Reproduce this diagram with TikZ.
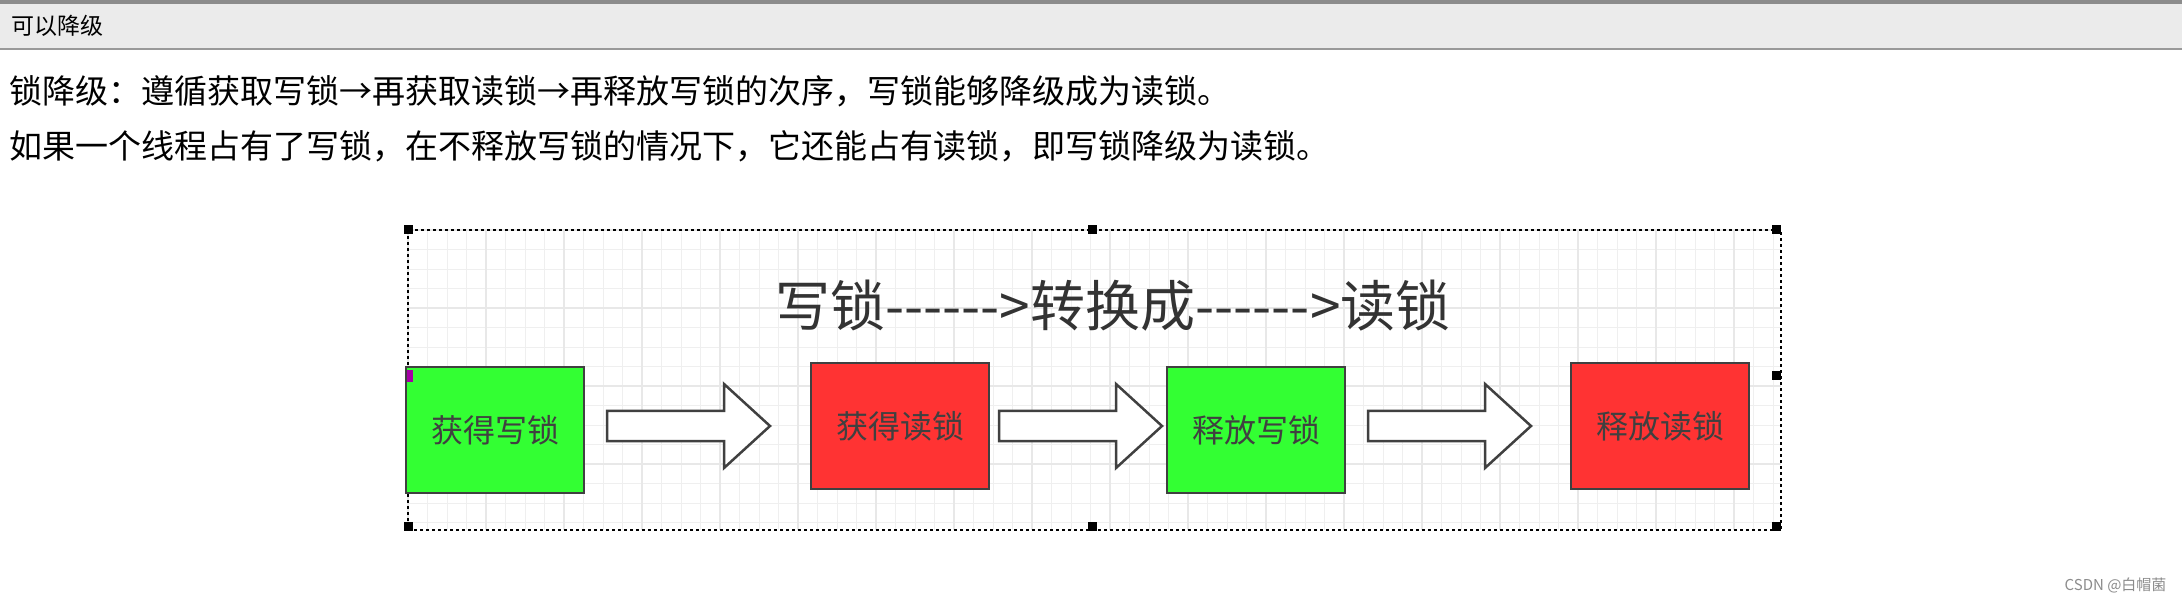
\documentclass[tikz,border=0pt]{standalone}
\usepackage{fontspec}
\setmainfont{Noto Sans CJK SC}
\usetikzlibrary{positioning}

\definecolor{lockgreen}{RGB}{51,255,51}
\definecolor{lockred}{RGB}{255,51,51}
\definecolor{gridgray}{RGB}{232,232,232}

\newcommand\hy{{-}}

\begin{document}
\begin{tikzpicture}[x=1pt,y=-1pt]

\tikzstyle step box=[draw=black!75, line width=2.5pt, minimum width=178pt, minimum height=126pt, inner sep=0pt, text=black!75, font=\fontsize{32}{34}\selectfont]
\tikzstyle handle=[fill=black, minimum size=9pt, inner sep=0pt]

\useasboundingbox (0,0) rectangle (2182,601);
\fill[white] (0,0) rectangle (2182,601);

% header bar
\fill[black!8] (0,0) rectangle (2182,49);
\fill[black!45] (0,0) rectangle (2182,4);
\draw[black!40, line width=1.5pt] (0,49) -- (2182,49);
\node (head) [anchor=west, font=\fontsize{23}{25}\selectfont] at (8,26) {可以降级};

\node (line1) [anchor=west, font=\fontsize{33}{36}\selectfont] at (6,91) {锁降级：遵循获取写锁→再获取读锁→再释放写锁的次序，写锁能够降级成为读锁。};
\node (line2) [anchor=west, font=\fontsize{33}{36}\selectfont] at (6,146) {如果一个线程占有了写锁，在不释放写锁的情况下，它还能占有读锁，即写锁降级为读锁。};

% grid
\foreach \x in {0,19.5,...,1373} \draw[gridgray!70, line width=0.8pt] (408+\x,230) -- (408+\x,530);
\foreach \y in {0,19.5,...,300} \draw[gridgray!70, line width=0.8pt] (408,230+\y) -- (1781,230+\y);
\foreach \x in {0,78,...,1373} \draw[gridgray, line width=1.6pt] (408+\x,230) -- (408+\x,530);
\foreach \y in {0,78,...,300} \draw[gridgray, line width=1.6pt] (408,230+\y) -- (1781,230+\y);
\draw[dashed, line width=1.5pt] (408,230) rectangle (1781,530);

\node (title) [text=black!80, font=\fontsize{55}{57}\selectfont] at (1113,306) {写锁\hy\hy\hy\hy\hy\hy>转换成\hy\hy\hy\hy\hy\hy>读锁};

\node (gw) [step box, fill=lockgreen] at (495,430) {获得写锁};
\node (gr) [step box, fill=lockred] at (900,426) {获得读锁};
\node (fw) [step box, fill=lockgreen] at (1256,430) {释放写锁};
\node (fr) [step box, fill=lockred] at (1660,426) {释放读锁};

% block arrows
\foreach \a/\b/\sx/\tx in {gw/gr/607/770, gr/fw/999/1162, fw/fr/1368/1531} {
  \coordinate (s) at (\sx,426);
  \coordinate (t) at (\tx,426);
  \draw[black!75, line width=2.5pt, fill=white, line join=miter]
    ([yshift=-15]s) -- ([xshift=-46,yshift=-15]t) -- ([xshift=-46,yshift=-42]t) -- (t)
    -- ([xshift=-46,yshift=42]t) -- ([xshift=-46,yshift=15]t) -- ([yshift=15]s) -- cycle;
}

% selection handles
\foreach \p in {(408,230),(1092,230),(1776,230),(1776,376),(408,526),(1092,526),(1776,526)}
  \node[handle] at \p {};
\fill[violet!70!magenta] (407,370) rectangle (413,382);

\node (mark) [anchor=east, text=black!45, font=\fontsize{15}{17}\selectfont] at (2170,585) {CSDN @白帽菌};

\end{tikzpicture}
\end{document}
